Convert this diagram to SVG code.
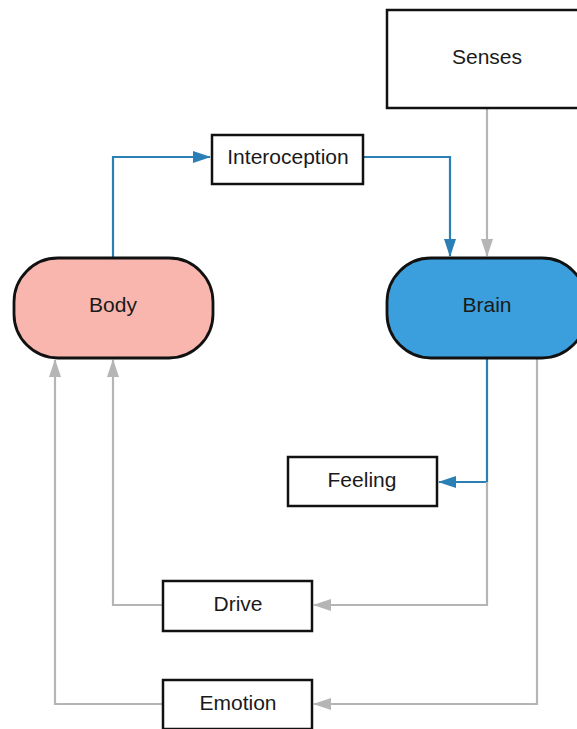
<svg xmlns="http://www.w3.org/2000/svg" width="577" height="729" viewBox="0 0 577 729">
  <style>
    .box { fill: #ffffff; stroke: #111111; stroke-width: 2.5; }
    .pill { stroke: #111111; stroke-width: 2.8; }
    .lbl { font-family: "Liberation Sans", Arial, sans-serif; font-size: 21px; fill: #1a1a1a; text-anchor: middle; }
    .blue { fill: none; stroke: #2a7fb4; stroke-width: 2.2; }
    .grey { fill: none; stroke: #b5b5b5; stroke-width: 2.2; }
  </style>
  <defs>
    <marker id="arrBlue" viewBox="0 0 18 12" refX="17" refY="6" markerWidth="18" markerHeight="12" markerUnits="userSpaceOnUse" orient="auto">
      <path d="M0,0 L18,6 L0,12 Z" fill="#2a7fb4"/>
    </marker>
    <marker id="arrGrey" viewBox="0 0 18 12" refX="17" refY="6" markerWidth="18" markerHeight="12" markerUnits="userSpaceOnUse" orient="auto">
      <path d="M0,0 L18,6 L0,12 Z" fill="#b5b5b5"/>
    </marker>
  </defs>
  <rect width="577" height="729" fill="#ffffff"/>

  <g id="connectors">
    <!-- Body -> Interoception -> Brain -->
    <path class="blue" d="M113,258 V157 H210" marker-end="url(#arrBlue)"/>
    <path class="blue" d="M363,157 H450 V256" marker-end="url(#arrBlue)"/>
    <!-- Senses -> Brain -->
    <path class="grey" d="M487,108 V256" marker-end="url(#arrGrey)"/>
    <!-- Brain -> Feeling -->
    <path class="blue" d="M487,358 V482 H439" marker-end="url(#arrBlue)"/>
    <!-- Brain -> Drive -> Body -->
    <path class="grey" d="M487,482 V605 H314" marker-end="url(#arrGrey)"/>
    <path class="grey" d="M163,605 H113 V360" marker-end="url(#arrGrey)"/>
    <!-- Brain -> Emotion -> Body -->
    <path class="grey" d="M537,358 V704 H314" marker-end="url(#arrGrey)"/>
    <path class="grey" d="M163,704 H55 V360" marker-end="url(#arrGrey)"/>
  </g>

  <g id="senses">
    <rect class="box" x="387" y="10" width="200" height="98"/>
    <text class="lbl" x="487" y="64">Senses</text>
  </g>
  <g id="interoception">
    <rect class="box" x="212" y="135" width="151" height="49"/>
    <text class="lbl" x="288" y="164">Interoception</text>
  </g>
  <g id="body">
    <rect class="pill" x="14" y="258" width="199" height="100" rx="44" ry="44" fill="#f8b6ae"/>
    <text class="lbl" x="113" y="312">Body</text>
  </g>
  <g id="brain">
    <rect class="pill" x="387" y="258" width="199" height="100" rx="44" ry="44" fill="#3a9fdc"/>
    <text class="lbl" x="487" y="312">Brain</text>
  </g>
  <g id="feeling">
    <rect class="box" x="288" y="457" width="149" height="49"/>
    <text class="lbl" x="362" y="487">Feeling</text>
  </g>
  <g id="drive">
    <rect class="box" x="163" y="581" width="149" height="50"/>
    <text class="lbl" x="238" y="611">Drive</text>
  </g>
  <g id="emotion">
    <rect class="box" x="163" y="680" width="149" height="49"/>
    <text class="lbl" x="238" y="710">Emotion</text>
  </g>
</svg>
